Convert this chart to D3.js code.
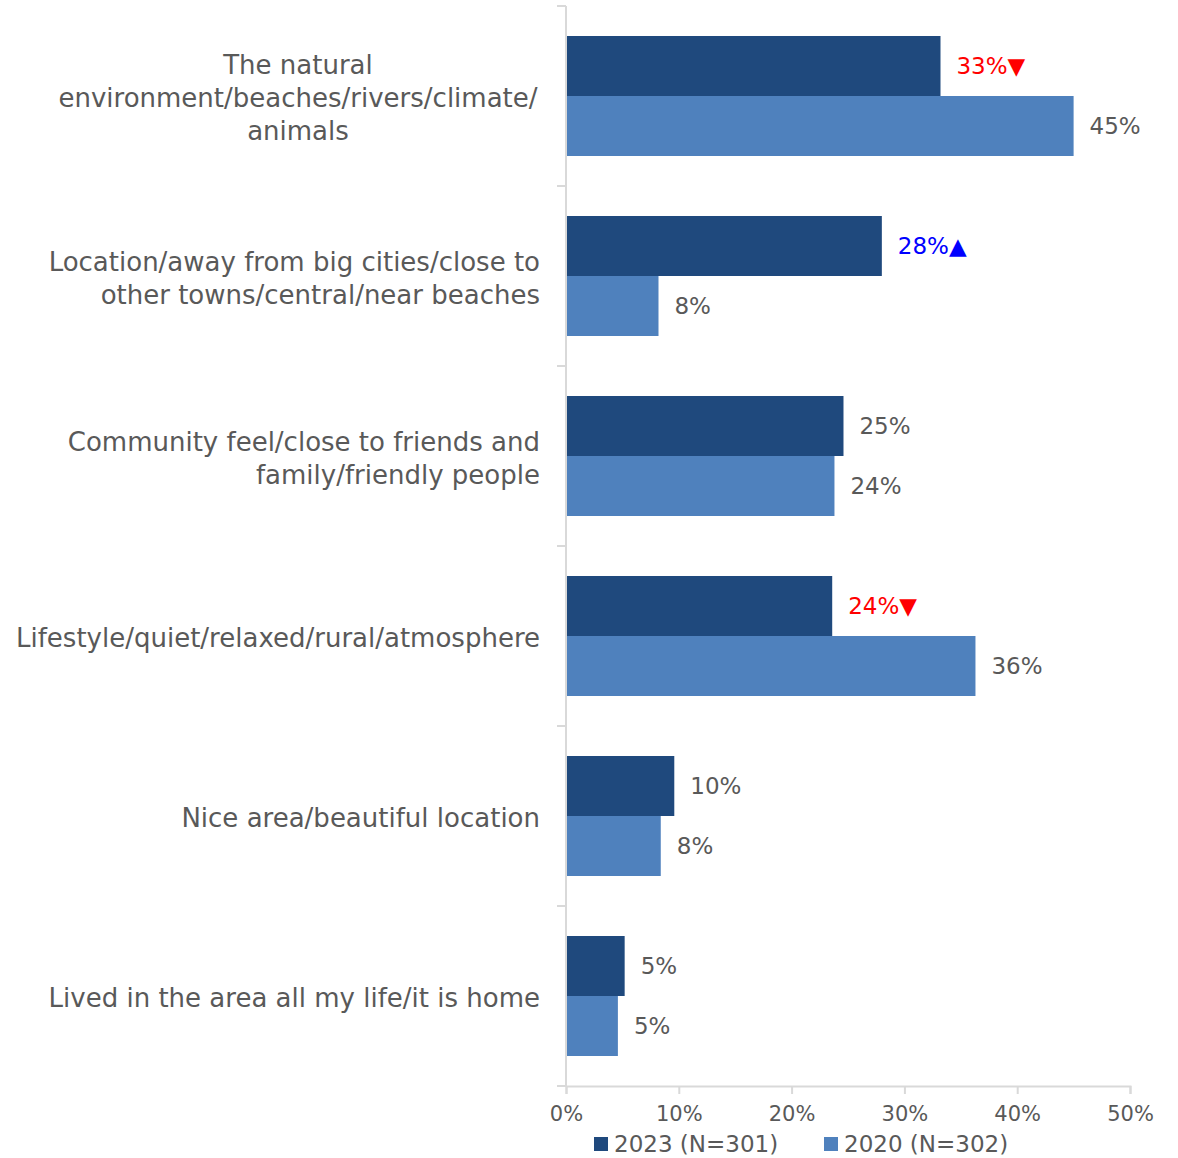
<!DOCTYPE html>
<html>
<head>
<meta charset="utf-8">
<script src="https://cdn.jsdelivr.net/npm/d3@7"></script>
<style>
  html, body { margin: 0; padding: 0; background: #fff; }
  svg text { font-family: "Century Gothic", "DejaVu Sans", sans-serif; }
</style>
</head>
<body>
<svg id="chart" width="1178" height="1158"></svg>
<script>
// Reasons people like living in the area, 2023 vs 2020
const categories = [
  ["The natural", "environment/beaches/rivers/climate/", "animals"],
  ["Location/away from big cities/close to", "other towns/central/near beaches"],
  ["Community feel/close to friends and", "family/friendly people"],
  ["Lifestyle/quiet/relaxed/rural/atmosphere"],
  ["Nice area/beautiful location"],
  ["Lived in the area all my life/it is home"]
];
const centerAligned = [true, false, false, false, false, false];
const values2023 = [0.332, 0.28, 0.246, 0.236, 0.096, 0.052];
const values2020 = [0.45, 0.082, 0.238, 0.363, 0.084, 0.046];
// significance vs previous wave: -1 down, +1 up, 0 none
const change2023 = [-1, 1, 0, -1, 0, 0];
const seriesNames = ["2023 (N=301)", "2020 (N=302)"];
const xTicks = [0, 0.1, 0.2, 0.3, 0.4, 0.5];

const colors = ["#1f497d", "#4f81bd"];
const textColor = "#595959";
const axisColor = "#d9d9d9";

const svg = d3.select("#chart");
const plotLeft = 566, plotRight = 1130, plotTop = 6, plotBottom = 1086;

const x = d3.scaleLinear().domain([0, 0.5]).range([plotLeft, plotRight]);
const y = d3.scaleBand().domain(d3.range(categories.length)).range([plotTop, plotBottom]).paddingInner(0).paddingOuter(0);
const inner = d3.scaleBand().domain([0, 1]).range([0, y.bandwidth()]).paddingInner(0).paddingOuter(0.5);

const fmt = d3.format(".0%");

// bars
const groups = svg.selectAll("g.cat").data(categories).join("g")
  .attr("class", "cat")
  .attr("transform", (d, i) => `translate(0,${y(i)})`);

groups.each(function(d, i) {
  const g = d3.select(this);
  const vals = [values2023[i], values2020[i]];
  vals.forEach((v, s) => {
    g.append("rect")
      .attr("x", x(0))
      .attr("y", inner(s))
      .attr("width", x(v) - x(0))
      .attr("height", inner.bandwidth())
      .attr("fill", colors[s]);
    let color = textColor, arrow = "";
    if (s === 0 && change2023[i] < 0) { color = "#ff0000"; arrow = "▼"; }
    if (s === 0 && change2023[i] > 0) { color = "#0000ff"; arrow = "▲"; }
    g.append("text")
      .attr("x", x(v) + 16)
      .attr("y", inner(s) + inner.bandwidth() / 2)
      .attr("dy", "0.35em")
      .attr("font-size", 23)
      .attr("fill", color)
      .text(fmt(v) + arrow);
  });

  // category label
  const lines = d;
  const lh = 33;
  const cy = y.bandwidth() / 2 + 2;
  const t = g.append("text")
    .attr("font-size", 26)
    .attr("fill", textColor)
    .attr("text-anchor", centerAligned[i] ? "middle" : "end");
  lines.forEach((ln, k) => {
    t.append("tspan")
      .attr("x", centerAligned[i] ? 298 : 540)
      .attr("y", cy + (k - (lines.length - 1) / 2) * lh)
      .attr("dy", "0.35em")
      .text(ln);
  });
});

// vertical category axis
const yAxis = svg.append("g");
yAxis.append("line").attr("x1", plotLeft).attr("x2", plotLeft).attr("y1", plotTop).attr("y2", plotBottom)
  .attr("stroke", axisColor).attr("stroke-width", 2);
d3.range(categories.length + 1).forEach(k => {
  const yy = k < categories.length ? y(k) : plotBottom;
  yAxis.append("line").attr("x1", plotLeft - 9).attr("x2", plotLeft).attr("y1", yy).attr("y2", yy)
    .attr("stroke", axisColor).attr("stroke-width", 2);
});

// horizontal value axis
const xAxis = svg.append("g").attr("transform", `translate(0,${plotBottom})`)
  .call(d3.axisBottom(x).tickValues(xTicks).tickFormat(d3.format(".0%")).tickSize(8).tickPadding(12));
xAxis.select(".domain").attr("stroke", axisColor).attr("stroke-width", 2);
xAxis.selectAll(".tick line").attr("stroke", axisColor).attr("stroke-width", 2);
xAxis.selectAll(".tick text").attr("fill", textColor).attr("font-size", 21)
  .attr("font-family", "'Century Gothic', 'DejaVu Sans', sans-serif");

// legend
const legendX = [594, 824];
seriesNames.forEach((name, s) => {
  svg.append("rect").attr("x", legendX[s]).attr("y", 1137).attr("width", 14).attr("height", 14)
    .attr("fill", colors[s]);
  svg.append("text").attr("x", legendX[s] + 20).attr("y", 1144).attr("dy", "0.35em")
    .attr("font-size", 23).attr("fill", textColor).text(name);
});
</script>
</body>
</html>
